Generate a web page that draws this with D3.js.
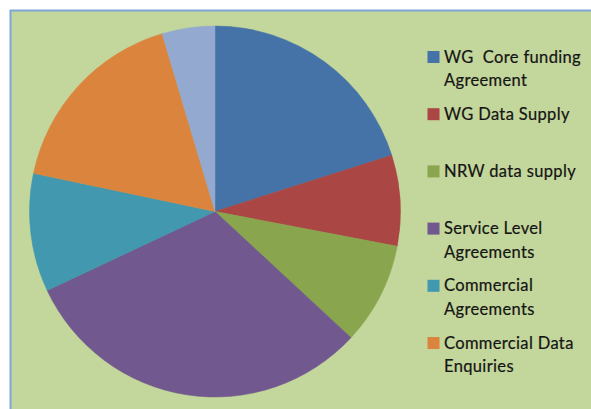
<!DOCTYPE html>
<html>
<head>
<meta charset="utf-8">
<script src="https://cdn.jsdelivr.net/npm/d3@7"></script>
<style>
  body { margin: 0; background: #fff; }
  svg { display: block; }
</style>
</head>
<body>
<div id="chart"></div>
<script>
var width = 591, height = 409;

// categories and their shares (in percent)
var categories = ["WG  Core funding Agreement", "WG Data Supply", "NRW data supply",
                  "Service Level Agreements", "Commercial Agreements",
                  "Commercial Data Enquiries", "Other"];
var values = [20.1, 7.9, 8.9, 31.1, 10.3, 17.1, 4.6];
// legend labels, already wrapped like the original (last slice has no entry)
var legendLabels = [["WG  Core funding", "Agreement"], ["WG Data Supply"], ["NRW data supply"],
                    ["Service Level", "Agreements"], ["Commercial", "Agreements"],
                    ["Commercial Data", "Enquiries"]];
var colors = ["#4572a7", "#aa4643", "#89a54e", "#71588f", "#4198af", "#db843d", "#93a9cf"];

var svg = d3.select("#chart")
    .append("svg")
    .attr("width", width)
    .attr("height", height);

// chart area frame
svg.append("rect")
    .attr("x", 10.5)
    .attr("y", 10.5)
    .attr("width", width)
    .attr("height", height)
    .attr("fill", "#c3d69b")
    .attr("stroke", "#7ea6d8")
    .attr("stroke-width", 2);

var color = d3.scaleOrdinal().domain(categories).range(colors);

var pie = d3.pie().sort(null).value(function(d){ return d.value; });
var arc = d3.arc().innerRadius(0).outerRadius(185.5);

var data = categories.map(function(c, i){ return {name: c, value: values[i]}; });

var g = svg.append("g")
    .attr("transform", "translate(215,211.5)");

g.selectAll("path")
    .data(pie(data))
    .enter()
    .append("path")
    .attr("d", arc)
    .attr("fill", function(d){ return color(d.data.name); })
    .attr("stroke", function(d){ return color(d.data.name); })
    .attr("stroke-width", 0.5);

// legend
var legend = svg.append("g")
    .attr("transform", "translate(427,57)");

var item = legend.selectAll("g")
    .data(legendLabels)
    .enter()
    .append("g")
    .attr("transform", function(d, i){ return "translate(0," + (i * 57.2) + ")"; });

item.append("rect")
    .attr("x", 0.5)
    .attr("y", -6)
    .attr("width", 12)
    .attr("height", 12)
    .attr("fill", function(d, i){ return colors[i]; });

item.each(function(lines){
    var t = d3.select(this).append("text")
        .attr("x", 17)
        .attr("y", 5.5)
        .attr("font-family", "Lato, 'Open Sans', sans-serif")
        .attr("font-size", "16.5px")
        .attr("letter-spacing", "0.35px")
        .attr("fill", "#141414")
        .attr("stroke", "#141414")
        .attr("stroke-width", 0.2)
        .style("white-space", "pre");
    lines.forEach(function(l, j){
        t.append("tspan")
            .attr("x", 17)
            .attr("dy", j == 0 ? 0 : 23.5)
            .text(l);
    });
});
</script>
</body>
</html>
